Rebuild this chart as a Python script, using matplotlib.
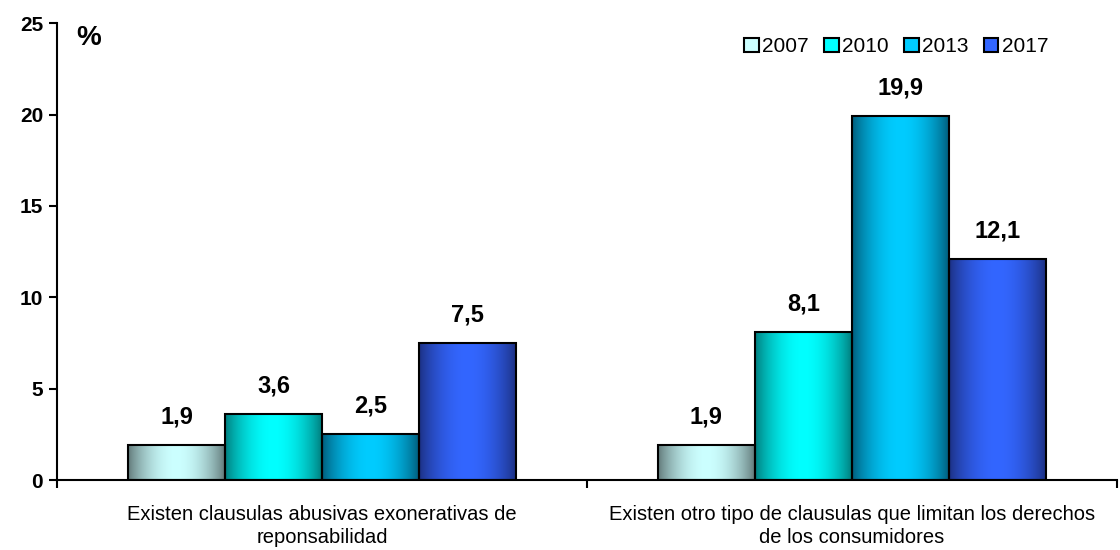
import numpy as np
import matplotlib
matplotlib.use("Agg")
import matplotlib.pyplot as plt
from matplotlib.colors import to_rgb
from matplotlib.patches import Patch

plt.rcParams['font.family'] = ['Liberation Sans', 'DejaVu Sans']

categories = ["Existen clausulas abusivas exonerativas de\nreponsabilidad",
              "Existen otro tipo de clausulas que limitan los derechos\nde los consumidores"]
years = ["2007", "2010", "2013", "2017"]
values = {
    "2007": [1.9, 1.9],
    "2010": [3.6, 8.1],
    "2013": [2.5, 19.9],
    "2017": [7.5, 12.1],
}
# (edge colour, centre colour) for the cylinder-like shading
shades = {
    "2007": ("#5f7676", "#ccffff"),
    "2010": ("#007a7a", "#00ffff"),
    "2013": ("#005a78", "#00ccff"),
    "2017": ("#1c2f80", "#3366ff"),
}

fig = plt.figure(figsize=(11.2, 5.5), dpi=100)
ax = fig.add_axes([0.051, 0.127, 0.946, 0.831])

x = np.arange(len(categories))
width = 0.183
offsets = (np.arange(len(years)) - 1.5) * width


def shaded_fill(bar, c_edge, c_mid):
    e = np.array(to_rgb(c_edge))
    m = np.array(to_rgb(c_mid))
    t = np.linspace(0, 1, 200)
    w = np.sin(np.pi * t) ** 0.8
    row = e[None, :] + (m - e)[None, :] * w[:, None]
    img = np.repeat(row[None, :, :], 2, axis=0)
    x0, y0 = bar.get_x(), bar.get_y()
    im = ax.imshow(img, extent=[x0, x0 + bar.get_width(), y0, y0 + bar.get_height()],
                   aspect='auto', zorder=2, interpolation='bilinear')
    im.set_clip_path(bar)


for i, yr in enumerate(years):
    bars = ax.bar(x + offsets[i], values[yr], width, facecolor='none',
                  edgecolor='black', linewidth=1.5, zorder=3)
    for b, v in zip(bars, values[yr]):
        shaded_fill(b, *shades[yr])
        ax.annotate(f"{v:.1f}".replace('.', ','), (b.get_x() + b.get_width() / 2, v),
                    xytext=(0, 12), textcoords='offset points', ha='center', va='bottom',
                    fontsize=17, fontweight='bold')

ax.set_xlim(-0.5, 1.5)
ax.set_ylim(0, 25)
ax.set_yticks([0, 5, 10, 15, 20, 25])
ax.tick_params(axis='y', labelsize=15, width=1.5, length=6, direction='out', pad=4)
for lab in ax.get_yticklabels():
    lab.set_fontweight('bold')

ax.set_xticks(x)
ax.set_xticklabels(categories, fontsize=14.5, linespacing=1.25)
ax.tick_params(axis='x', length=0, pad=18)
ax.set_xticks([-0.5, 0.5, 1.5], minor=True)
ax.tick_params(axis='x', which='minor', length=6, width=1.5, direction='out')

for s in ['top', 'right']:
    ax.spines[s].set_visible(False)
for s in ['left', 'bottom']:
    ax.spines[s].set_linewidth(1.5)

ax.text(0.018, 0.995, "%", transform=ax.transAxes, fontsize=20, fontweight='bold',
        ha='left', va='top')

handles = [Patch(facecolor=shades[yr][1], edgecolor='black', linewidth=1.5) for yr in years]
ax.legend(handles, years, loc='upper right', bbox_to_anchor=(0.953, 1.01), ncol=4,
          frameon=False, fontsize=15, handlelength=0.7, handleheight=0.7,
          handletextpad=0.15, columnspacing=0.75)

fig.savefig("out.png", dpi=100)
